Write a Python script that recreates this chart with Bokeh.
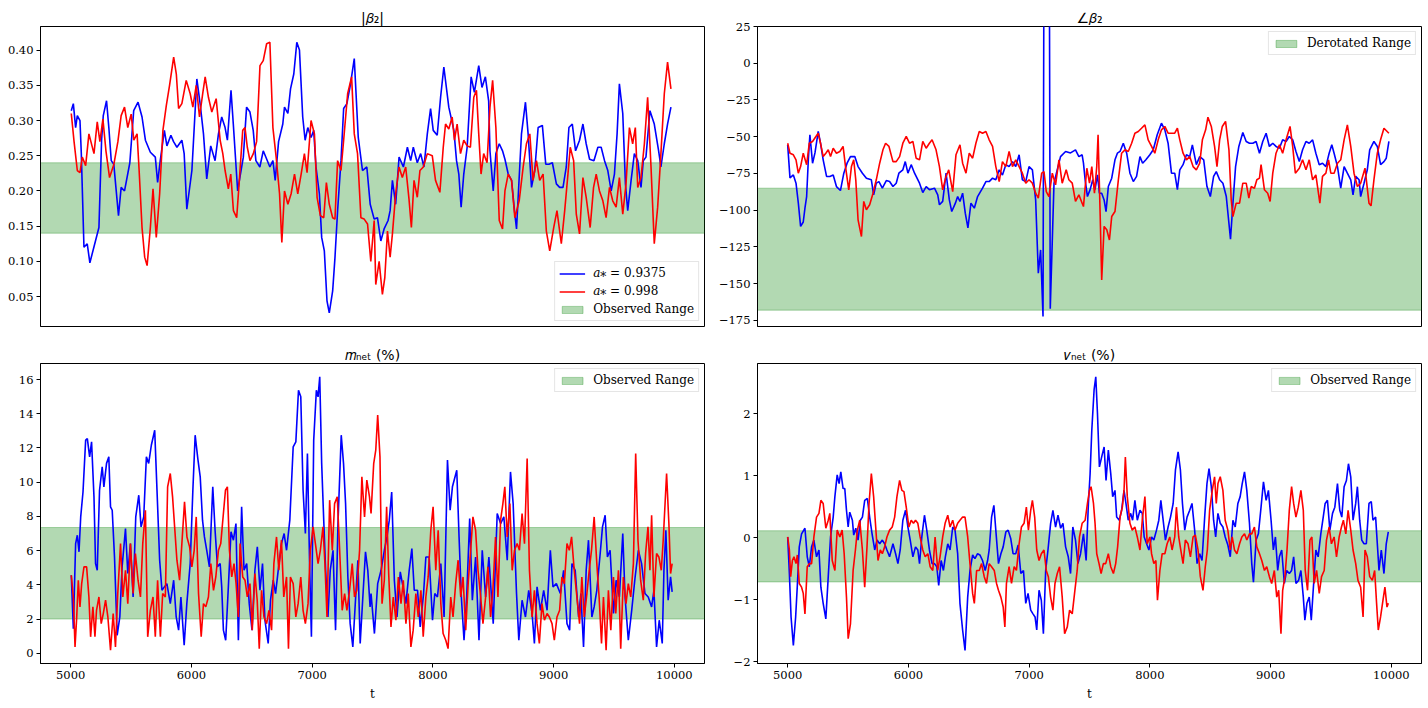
from bokeh.plotting import figure
from bokeh.models import Range1d, FixedTicker, CustomJSTickFormatter, Legend, LegendItem
from bokeh.layouts import column, row
from bokeh.embed import file_html
from bokeh.resources import INLINE

# ------------------------------------------------------------------ data
# |beta_2|  (top-left)
b2mag_t_blue = [
    5005, 5022, 5041, 5055, 5077, 5088, 5110, 5137, 5159, 5192,
    5234, 5256, 5270, 5297, 5316, 5336, 5357, 5396, 5418, 5446,
    5490, 5522, 5558, 5591, 5619, 5660, 5701, 5720, 5742, 5776,
    5797, 5830, 5852, 5880, 5921, 5940, 5962, 6004, 6045, 6072,
    6100, 6127, 6160, 6196, 6224, 6251, 6279, 6298, 6328, 6347,
    6383, 6430, 6457, 6485, 6512, 6534, 6567, 6595, 6650,
    6675, 6694, 6722, 6757, 6771, 6799, 6821, 6848, 6873, 6895,
    6922, 6942, 6964, 6991, 7013, 7032, 7060, 7079, 7101, 7123,
    7142, 7170, 7189, 7211, 7239, 7261, 7288, 7316, 7349, 7382,
    7417, 7453, 7481, 7514, 7541, 7569, 7596, 7629, 7646, 7665,
    7692, 7720, 7756, 7789, 7816, 7838, 7871, 7899, 7926, 7954,
    7981, 8003, 8036, 8064, 8091, 8132, 8174, 8196, 8215, 8234,
    8256, 8284, 8317, 8344, 8380, 8407, 8435, 8462,
    8473, 8500, 8522, 8550, 8577, 8597, 8624, 8652, 8679, 8693,
    8715, 8734, 8767, 8789, 8817, 8844, 8872, 8907, 8935, 8962,
    8990, 9023, 9050, 9078, 9105, 9127, 9155, 9182, 9215, 9243,
    9270, 9298, 9334, 9367, 9394, 9422, 9449, 9477, 9504, 9526,
    9545, 9573, 9595, 9614, 9642, 9669, 9697, 9724, 9743, 9765,
    9798, 9834, 9870, 9889, 9917, 9944, 9972,
]
b2mag_blue = [
    0.314, 0.324, 0.29, 0.307, 0.30, 0.253, 0.12, 0.125, 0.098, 0.12,
    0.148, 0.272, 0.307, 0.328, 0.29, 0.243, 0.238, 0.165, 0.205, 0.20,
    0.24, 0.314, 0.326, 0.305, 0.272, 0.255, 0.248, 0.212, 0.243, 0.286,
    0.264, 0.279, 0.27, 0.262, 0.272, 0.253, 0.174, 0.229, 0.359, 0.324,
    0.281, 0.217, 0.264, 0.243, 0.281, 0.305, 0.29, 0.272, 0.343, 0.295,
    0.20, 0.248, 0.319, 0.312, 0.286, 0.243, 0.234, 0.257, 0.234,
    0.243, 0.215, 0.27, 0.295, 0.319, 0.31, 0.345, 0.366, 0.411, 0.40,
    0.305, 0.272, 0.29, 0.276, 0.286, 0.234, 0.196, 0.134, 0.115, 0.044,
    0.027, 0.058, 0.105, 0.172, 0.243, 0.317, 0.324, 0.35, 0.388, 0.276,
    0.229, 0.234, 0.181, 0.16, 0.162, 0.129, 0.146, 0.158, 0.172, 0.215,
    0.181, 0.248, 0.234, 0.262, 0.243, 0.262, 0.24, 0.253, 0.234, 0.281,
    0.317, 0.286, 0.279, 0.333, 0.376, 0.319, 0.286, 0.243, 0.224, 0.177,
    0.224, 0.262, 0.362, 0.34, 0.378, 0.347, 0.362, 0.328,
    0.257, 0.20, 0.253, 0.267, 0.257, 0.245, 0.224, 0.215, 0.167, 0.146,
    0.219, 0.281, 0.326, 0.281, 0.205, 0.229, 0.29, 0.293, 0.238, 0.238,
    0.24, 0.21, 0.205, 0.205, 0.234, 0.29, 0.295, 0.257, 0.272, 0.295,
    0.267, 0.245, 0.243, 0.262, 0.262, 0.243, 0.229, 0.20, 0.224, 0.281,
    0.352, 0.31, 0.21, 0.172, 0.215, 0.253, 0.243, 0.205, 0.243, 0.248,
    0.314, 0.295, 0.257, 0.234, 0.267, 0.295, 0.319,
]
b2mag_t_red = [
    5005, 5028, 5055, 5077, 5096, 5124, 5151, 5193, 5220, 5242,
    5267, 5292, 5322, 5358, 5391, 5418, 5446, 5473, 5501, 5523,
    5550, 5567, 5591, 5613, 5633, 5660, 5682, 5709, 5737, 5764,
    5792, 5819, 5853, 5875, 5894, 5921, 5957, 5990, 6012, 6040,
    6067, 6095, 6114, 6141, 6169, 6205, 6238, 6260, 6279, 6306,
    6326, 6348, 6375, 6397, 6425, 6444, 6463, 6485, 6513, 6540,
    6568, 6595, 6623, 6650,
    6675, 6702, 6730, 6749, 6771, 6799, 6826, 6854, 6881, 6909,
    6936, 6958, 6991, 7019, 7041, 7068, 7096, 7118, 7142, 7170,
    7189, 7211, 7239, 7261, 7294, 7327, 7349, 7376, 7404, 7431,
    7459, 7486, 7514, 7527, 7555, 7582, 7602, 7624, 7646, 7665,
    7692, 7720, 7747, 7775, 7802, 7822, 7844, 7871, 7893, 7921,
    7954, 7995, 8022, 8058, 8086, 8105, 8132, 8160, 8179, 8201,
    8229, 8256, 8284, 8311, 8339, 8361, 8380, 8399, 8421, 8449,
    8473, 8495, 8522, 8550, 8577, 8597, 8624, 8652, 8679, 8715,
    8748, 8775, 8803, 8830, 8858, 8885, 8913, 8940, 8968, 9001,
    9028, 9064, 9092, 9119, 9138, 9166, 9188, 9215, 9243, 9270,
    9303, 9331, 9353, 9380, 9408, 9435, 9463, 9490, 9518, 9545,
    9573, 9600, 9628, 9655, 9677, 9697, 9724, 9752, 9779, 9807,
    9834, 9862, 9889, 9917, 9944, 9972,
]
b2mag_red = [
    0.31, 0.27, 0.229, 0.226, 0.248, 0.236, 0.281, 0.253, 0.298, 0.27,
    0.302, 0.257, 0.219, 0.238, 0.27, 0.307, 0.319, 0.29, 0.309, 0.272,
    0.281, 0.229, 0.148, 0.106, 0.094, 0.148, 0.203, 0.134, 0.196, 0.286,
    0.321, 0.35, 0.39, 0.366, 0.317, 0.324, 0.357, 0.338, 0.319, 0.35,
    0.305, 0.34, 0.362, 0.333, 0.312, 0.331, 0.272, 0.253, 0.229, 0.203,
    0.224, 0.172, 0.162, 0.215, 0.286, 0.29, 0.262, 0.243, 0.253, 0.27,
    0.378, 0.385, 0.409, 0.411,
    0.29, 0.248, 0.196, 0.127, 0.20, 0.181, 0.196, 0.224, 0.196, 0.224,
    0.253, 0.226, 0.30, 0.281, 0.191, 0.165, 0.162, 0.212, 0.181, 0.162,
    0.16, 0.243, 0.229, 0.272, 0.338, 0.362, 0.281, 0.253, 0.162, 0.16,
    0.153, 0.10, 0.158, 0.067, 0.10, 0.053, 0.077, 0.143, 0.106, 0.139,
    0.196, 0.234, 0.219, 0.234, 0.189, 0.148, 0.215, 0.191, 0.229, 0.234,
    0.253, 0.25, 0.215, 0.198, 0.262, 0.295, 0.288, 0.305, 0.272, 0.295,
    0.253, 0.272, 0.264, 0.262, 0.333, 0.343, 0.281, 0.224, 0.253, 0.24,
    0.319, 0.357, 0.29, 0.158, 0.146, 0.20, 0.224, 0.215, 0.162, 0.186,
    0.234, 0.267, 0.281, 0.215, 0.243, 0.215, 0.224, 0.143, 0.115, 0.148,
    0.172, 0.125, 0.172, 0.224, 0.262, 0.243, 0.167, 0.139, 0.219, 0.191,
    0.148, 0.205, 0.224, 0.20, 0.186, 0.162, 0.205, 0.186, 0.177, 0.219,
    0.167, 0.21, 0.29, 0.267, 0.29, 0.205, 0.219, 0.267, 0.333, 0.234,
    0.125, 0.177, 0.253, 0.338, 0.383, 0.345,
]

# angle of beta_2 (top-right)
b2ang_t_blue = [
    5000, 5019, 5047, 5069, 5088, 5107, 5129, 5143, 5157, 5171,
    5184, 5206, 5226, 5253, 5272, 5294, 5322, 5349, 5377, 5404,
    5437, 5465, 5492, 5520, 5556, 5583, 5619, 5652, 5693, 5712,
    5734, 5756, 5784, 5817, 5844, 5872, 5899, 5921, 5954, 5974,
    5996, 6023, 6051, 6092, 6119, 6147, 6174, 6216, 6243, 6257,
    6284, 6312, 6339, 6359, 6389, 6408, 6427, 6449, 6471, 6493,
    6518, 6546, 6573, 6614, 6642, 6669, 6697, 6724, 6752, 6779,
    6807, 6834, 6862, 6889, 6917, 6944, 6972, 6999, 7027, 7054,
    7076, 7095, 7115, 7126, 7164, 7175, 7206, 7233, 7260, 7302,
    7343, 7384, 7412, 7439,
    7450, 7464, 7483, 7505, 7527, 7546, 7566, 7582, 7601, 7621,
    7637, 7656, 7684, 7711, 7731, 7753, 7780, 7808, 7835, 7863,
    7890, 7918, 7940, 7967, 8000, 8028, 8061, 8096, 8124, 8151,
    8179, 8206, 8228, 8248, 8275, 8303, 8330, 8352, 8385, 8413,
    8446, 8473, 8501, 8528, 8550, 8578, 8605, 8633, 8652, 8668,
    8688, 8710, 8737, 8770, 8798, 8825, 8853, 8880, 8908, 8935,
    8963, 8990, 9018, 9045, 9073, 9100, 9128, 9155, 9183, 9210,
    9238, 9265, 9293, 9320, 9348, 9375, 9403, 9430, 9458, 9485,
    9507, 9526, 9554, 9581, 9609, 9636, 9664, 9683, 9705, 9733,
    9746, 9774, 9801, 9821, 9856, 9884, 9911, 9939, 9958, 9980,
]
b2ang_blue = [
    -55.5, -78, -76, -81.6, -95, -111, -108, -98.6, -90.7, -65.7,
    -48.7, -68, -61, -46.4, -54.4, -65.7, -77, -77, -76, -83.9,
    -86.6, -74.8, -68, -63.5, -63.5, -70.3, -74.8, -78.2, -79.3, -89.5,
    -81.6, -80.5, -85, -79.8, -80.5, -83.9, -81.6, -74.8, -72.5, -66.9,
    -74.8, -69, -74.8, -81.6, -88, -83.9, -86, -85, -89.5, -96.3,
    -94, -74.8, -93, -100.9, -95.2, -90.7, -94, -88.4, -102, -112,
    -95.2, -98.6, -90.7, -85, -80.5, -80.5, -78.2, -79.3, -72.5, -76,
    -69, -70.3, -66.9, -70.3, -62.3, -79.3, -80.5, -70.3, -72.5, -93,
    -142.8, -127, -172.3, 175, 175, -167, -81.6, -72.5, -63.5, -60,
    -61, -58.9, -63.5, -62.3,
    -68, -79.3, -90.7, -86, -79.3, -86, -76, -88.4, -88.4, -93,
    -100.9, -83.9, -78.2, -65.7, -61.2, -60, -54.4, -61.2, -74.8, -80.5,
    -77, -63.5, -68, -65.7, -62.3, -58.9, -48.7, -40.8, -45.3, -54.4,
    -74.8, -74.8, -86, -72.5, -69, -62.3, -63.5, -55.5, -69, -63.5,
    -65.7, -83.9, -90.7, -77, -73.7, -79.3, -81.6, -90.7, -106.5, -119.7,
    -95.2, -70.3, -56.6, -47.1, -53.2, -54.4, -54.4, -53.2, -61.2, -53.2,
    -47.6, -56.6, -54.4, -56.6, -57.8, -52.1, -53.2, -49.8, -52.1, -60,
    -66.9, -58.9, -53.2, -54.4, -52.1, -61.2, -69, -68, -70.3, -61.2,
    -55.5, -61.2, -70.3, -85, -70.3, -74.8, -79.3, -89.5, -77, -79.3,
    -90.7, -81.6, -72.5, -58.9, -53.2, -56.6, -69, -66.9, -64.6, -53.2,
]
b2ang_t_red = [
    5000, 5019, 5047, 5069, 5088, 5107, 5129, 5157, 5179, 5206,
    5234, 5253, 5272, 5294, 5316, 5336, 5355, 5377, 5404, 5432,
    5459, 5479, 5506, 5528, 5547, 5564, 5583, 5611, 5630, 5652,
    5679, 5707, 5734, 5762, 5789, 5811, 5839, 5872, 5899, 5927,
    5954, 5982, 6009, 6037, 6064, 6092, 6119, 6147, 6174, 6196,
    6229, 6257, 6284, 6312, 6334, 6367, 6394, 6427, 6449, 6477,
    6504, 6532, 6559, 6587, 6614, 6642, 6669, 6697, 6724, 6752,
    6779, 6807, 6834, 6862, 6889, 6917, 6944, 6972, 6999, 7027,
    7054, 7076, 7104, 7123, 7142, 7164, 7192, 7219, 7247, 7274,
    7307, 7329, 7357, 7384, 7412, 7439,
    7450, 7478, 7500, 7519, 7541, 7560, 7571, 7588, 7601, 7621,
    7643, 7665, 7684, 7711, 7739, 7766, 7794, 7821, 7849, 7876,
    7904, 7931, 7959, 7986, 8014, 8041, 8069, 8096, 8124, 8151,
    8179, 8206, 8228, 8248, 8275, 8303, 8330, 8358, 8385, 8413,
    8435, 8462, 8481, 8509, 8536, 8556, 8578, 8600, 8627, 8655,
    8674, 8688, 8715, 8743, 8770, 8798, 8820, 8839, 8866, 8886,
    8908, 8921, 8949, 8976, 8996, 9018, 9045, 9073, 9100, 9128,
    9161, 9183, 9205, 9238, 9265, 9293, 9320, 9348, 9375, 9408,
    9430, 9458, 9480, 9499, 9526, 9554, 9581, 9609, 9636, 9664,
    9691, 9719, 9746, 9782, 9815, 9832, 9856, 9884, 9911, 9939,
    9980,
]
b2ang_red = [
    -54.4, -61.2, -62.3, -65.7, -74.8, -70.3, -61.2, -69, -54.4, -53.2,
    -49.8, -47.6, -54.4, -63.5, -61.2, -58.9, -63.5, -57.8, -61.2, -60,
    -56.6, -70.3, -86.1, -70.3, -65.7, -79.3, -106.5, -117.9, -94, -99.7,
    -96.3, -88.4, -79.3, -68, -58.9, -54.4, -56.6, -66.9, -66.9, -63.5,
    -54.4, -49.8, -54.4, -53.2, -64.6, -65.7, -53.2, -57.8, -54.4, -52.1,
    -58.9, -70.3, -86.1, -77, -72.5, -87.3, -62.3, -55.5, -68, -74.8,
    -61.2, -64.6, -54.4, -46.4, -47.6, -46.4, -52.1, -56.6, -70.3, -80.5,
    -66.9, -70.3, -60, -70.3, -65.7, -70.3, -74.8, -81.6, -79.3, -81.6,
    -88.4, -91.8, -74.8, -73.7, -87.3, -90.7, -74.8, -82.7, -65.7, -81.6,
    -72.5, -79.3, -81.6, -94, -89.5, -95.2,
    -97.5, -71.4, -81.6, -70.3, -88.4, -70.3, -48.7, -102, -147.4, -111,
    -113.3, -120.2, -104.3, -100.9, -79.3, -61.2, -58.9, -60, -54.4, -47.6,
    -46.4, -44.2, -41.9, -52.1, -56.6, -61.2, -52.1, -45.3, -43, -47.6,
    -47.6, -47.6, -44.2, -52.1, -61.2, -65.7, -63.5, -70.3, -72.5, -68,
    -52.1, -45.3, -36.7, -43, -56.6, -70.3, -52.1, -43, -39.6, -58.9,
    -93, -104.3, -95.2, -95.2, -81.6, -81.6, -91.8, -83.9, -85, -79.3,
    -78.2, -69, -86.1, -88.4, -94, -74.8, -61.2, -55.5, -61.2, -52.1,
    -43, -56.6, -74.8, -71.4, -65.7, -72.5, -65.7, -79.3, -76, -95.2,
    -77, -74.8, -65.7, -74.8, -74.8, -68, -65.7, -52.1, -41.9, -56.6,
    -74.8, -83.9, -81.6, -71.4, -95.2, -97, -79.3, -61.2, -52.1, -44.2,
    -47.6,
]

# m_net (%) (bottom-left)
mnet_t_blue = [
    5005, 5022, 5041, 5055, 5069, 5083, 5102, 5124, 5138, 5157,
    5173, 5193, 5206, 5220, 5239, 5261, 5275, 5297, 5316, 5330,
    5344, 5363, 5385, 5407, 5426, 5454, 5473, 5495, 5517, 5539,
    5564, 5583, 5605, 5627, 5646, 5668, 5696, 5715, 5737, 5756,
    5776, 5797, 5825, 5853, 5874, 5894, 5913, 5940, 5962, 5990,
    6012, 6031, 6053, 6073, 6092, 6108, 6127, 6149, 6177, 6196,
    6216, 6238, 6251, 6265, 6284, 6306, 6328, 6348, 6369, 6389,
    6416, 6436, 6458, 6479, 6502, 6526, 6546, 6568, 6589, 6609,
    6636, 6655, 6678, 6697, 6719, 6746, 6768, 6788, 6815, 6843,
    6865, 6887, 6906, 6925, 6944, 6961, 6980, 6994, 7013, 7035,
    7049, 7063, 7079, 7096, 7112, 7131, 7150, 7173, 7194, 7214,
    7241, 7260, 7277, 7296, 7315, 7337, 7359, 7379, 7398, 7420,
    7442, 7461, 7480,
    7488, 7516, 7543, 7571, 7598, 7620, 7639, 7659, 7681, 7703,
    7730, 7758, 7777, 7804, 7826, 7846, 7873, 7895, 7923, 7942,
    7969, 7997, 8016, 8038, 8066, 8093, 8121, 8143, 8162, 8198,
    8217, 8236, 8258, 8280, 8305, 8327, 8354, 8382, 8409, 8437,
    8464, 8500, 8533, 8561, 8588, 8616, 8643, 8665, 8693, 8712,
    8739, 8767, 8794, 8822, 8841, 8863, 8891, 8918, 8946, 8973,
    8995, 9023, 9056, 9083, 9111, 9133, 9152, 9179, 9207, 9226,
    9248, 9270, 9289, 9317, 9336, 9358, 9386, 9405, 9427, 9446,
    9468, 9496, 9518, 9545, 9573, 9592, 9619, 9647, 9674, 9702,
    9729, 9757, 9784, 9812, 9831, 9853, 9875, 9900, 9914, 9930,
    9949, 9969, 9982,
]
mnet_blue = [
    4.56, 1.44, 6.41, 6.9, 5.93, 7.97, 9.43, 12.46, 12.55, 11.48,
    12.36, 9.14, 5.24, 4.85, 9.53, 10.9, 9.73, 11.1, 11.48, 8.56,
    8.36, 5.63, 1.05, 2.12, 5.05, 7.29, 4.66, 6.41, 3.29, 7.97,
    9.24, 7.39, 7.97, 11.48, 11.1, 12.16, 13.04, 9.53, 5.44, 3.68,
    3.88, 4.07, 2.9, 4.27, 2.12, 1.35, 3.29, 0.47, 2.9, 5.24,
    9.53, 12.75, 11.38, 10.31, 7.78, 6.8, 6.02, 5.05, 9.73, 7.19,
    5.05, 5.24, 3.88, 1.35, 0.76, 3.88, 7.1, 6.61, 7.58, 0.76,
    8.56, 4.85, 5.24, 2.9, 1.35, 4.85, 6.22, 3.68, 5.24, 1.93,
    0.57, 3.1, 4.27, 3.49, 4.85, 6.41, 7.0, 6.02, 7.78, 12.07,
    12.36, 15.38, 14.99, 9.53, 7.0, 11.68, 4.85, 0.96, 12.46, 15.38,
    14.99, 16.16, 11.1, 7.78, 4.85, 2.12, 4.85, 6.02, 1.35, 7.58,
    12.75, 11.1, 8.75, 4.46, 1.73, 0.37, 3.1, 5.44, 0.57, 3.29,
    5.93, 4.85, 2.71,
    3.49, 1.15, 4.07, 4.85, 6.02, 6.8, 7.78, 9.43, 4.27, 2.12,
    4.76, 3.68, 2.9, 4.85, 6.12, 3.68, 3.68, 1.54, 3.49, 5.63,
    5.63, 1.93, 3.49, 3.29, 5.24, 2.12, 11.29, 8.36, 9.73, 10.7,
    6.8, 3.29, 0.76, 3.29, 7.88, 3.1, 5.63, 0.76, 6.02, 3.29,
    5.63, 1.73, 8.17, 7.58, 7.97, 5.44, 10.6, 8.75, 3.49, 0.76,
    3.1, 2.12, 3.68, 2.32, 0.57, 3.88, 2.51, 3.68, 2.51, 6.02,
    3.88, 4.07, 3.49, 4.85, 1.73, 1.35, 5.24, 4.85, 2.12, 3.49,
    0.37, 4.85, 6.61, 2.12, 2.71, 3.68, 5.83, 7.39, 8.07, 5.63,
    6.02, 2.32, 4.27, 3.29, 7.0, 3.29, 0.76, 2.51, 4.37, 6.02,
    5.24, 3.49, 3.29, 2.71, 3.68, 0.37, 1.93, 0.57, 4.85, 7.19,
    3.1, 4.46, 3.59,
]
mnet_t_red = [
    5005, 5022, 5036, 5050, 5063, 5077, 5091, 5110, 5132, 5151,
    5165, 5184, 5201, 5214, 5234, 5253, 5270, 5289, 5308, 5330,
    5352, 5371, 5390, 5413, 5432, 5454, 5473, 5495, 5517, 5536,
    5558, 5578, 5597, 5619, 5638, 5660, 5682, 5701, 5720, 5743,
    5762, 5784, 5803, 5825, 5844, 5861, 5880, 5902, 5921, 5943,
    5963, 5985, 6004, 6023, 6040, 6059, 6081, 6100, 6119, 6141,
    6161, 6183, 6202, 6224, 6243, 6265, 6282, 6298, 6315, 6334,
    6353, 6370, 6389, 6403, 6425, 6444, 6463, 6485, 6504, 6526,
    6545, 6562, 6581, 6601, 6623, 6642, 6664, 6683, 6705, 6724,
    6746, 6765, 6788, 6804, 6820, 6843, 6865, 6884, 6906, 6925,
    6944, 6966, 6985, 7008, 7027, 7049, 7068, 7090, 7106, 7123,
    7145, 7167, 7186, 7208, 7228, 7249, 7269, 7288, 7310, 7332,
    7351, 7370, 7393, 7412, 7434, 7453, 7475,
    7488, 7510, 7527, 7543, 7562, 7579, 7598, 7617, 7634, 7653,
    7672, 7694, 7714, 7736, 7755, 7777, 7796, 7818, 7837, 7859,
    7879, 7901, 7920, 7942, 7961, 7983, 8002, 8024, 8044, 8066,
    8085, 8107, 8126, 8148, 8167, 8189, 8209, 8231, 8250, 8272,
    8294, 8313, 8332, 8354, 8374, 8396, 8415, 8437, 8456, 8478,
    8497, 8519, 8539, 8561, 8580, 8596, 8616, 8638, 8657, 8676,
    8698, 8717, 8739, 8759, 8781, 8800, 8822, 8841, 8863, 8882,
    8904, 8924, 8946, 8965, 8987, 9006, 9028, 9050, 9069, 9089,
    9111, 9130, 9149, 9171, 9193, 9215, 9234, 9254, 9276, 9295,
    9314, 9336, 9358, 9377, 9397, 9413, 9435, 9454, 9474, 9496,
    9515, 9537, 9556, 9578, 9600, 9619, 9639, 9661, 9680, 9699,
    9721, 9743, 9762, 9782, 9798, 9812, 9831, 9853, 9872, 9892,
    9908, 9922, 9936, 9955, 9969, 9982,
]
mnet_red = [
    4.56, 3.29, 0.37, 2.12, 4.27, 2.71, 4.07, 5.05, 5.05, 3.29,
    0.96, 2.71, 0.96, 2.51, 3.29, 1.73, 2.32, 3.1, 2.12, 0.18,
    2.32, 0.37, 3.49, 6.41, 3.29, 4.85, 2.9, 6.41, 3.49, 5.83,
    4.27, 3.29, 6.41, 8.36, 0.96, 2.51, 3.29, 0.96, 4.27, 0.96,
    3.49, 3.29, 9.73, 10.51, 9.14, 7.39, 5.44, 4.27, 6.41, 8.85,
    6.8, 6.22, 5.05, 6.02, 7.97, 3.49, 0.96, 2.9, 2.71, 3.29,
    5.24, 3.68, 4.46, 6.02, 6.41, 8.17, 9.53, 9.73, 6.02, 4.46,
    5.24, 4.07, 2.12, 6.41, 4.46, 4.27, 3.29, 4.07, 1.35, 4.66,
    3.1, 0.27, 3.68, 2.12, 1.73, 2.51, 1.35, 5.24, 6.8, 4.85,
    6.61, 3.29, 4.46, 0.27, 4.46, 4.07, 2.12, 2.9, 4.46, 2.51,
    1.73, 2.9, 6.02, 7.39, 6.41, 5.24, 6.02, 7.39, 5.24, 2.12,
    8.95, 6.02, 8.75, 9.14, 6.02, 2.51, 3.49, 2.51, 3.68, 5.24,
    3.29, 3.68, 6.02, 10.31, 7.97, 10.12, 9.14,
    8.17, 11.09, 11.87, 13.92, 11.48, 2.9, 4.27, 8.56, 4.66, 1.54,
    3.29, 1.93, 4.46, 2.9, 4.27, 1.73, 3.49, 0.37, 1.35, 3.49,
    2.12, 3.68, 0.96, 3.29, 4.46, 7.19, 8.56, 4.85, 7.19, 2.9,
    1.15, 0.76, 0.27, 3.29, 2.12, 4.07, 5.44, 3.29, 4.46, 1.35,
    4.27, 6.02, 7.97, 7.19, 4.85, 3.29, 1.73, 3.29, 5.05, 2.12,
    3.68, 6.8, 3.29, 7.78, 8.75, 9.73, 6.8, 8.75, 4.85, 6.02,
    6.41, 6.02, 8.17, 6.41, 11.38, 4.85, 2.12, 3.68, 1.73, 0.57,
    2.9, 1.93, 2.32, 2.12, 1.73, 0.76, 2.12, 2.51, 4.46, 4.07,
    6.41, 6.02, 6.8, 4.85, 3.29, 1.73, 4.46, 2.12, 3.49, 4.85,
    6.02, 7.97, 5.24, 3.29, 0.57, 3.29, 0.18, 3.68, 1.35, 4.46,
    2.32, 4.85, 0.27, 4.46, 2.9, 4.07, 3.29, 5.24, 11.68, 6.61,
    4.27, 3.1, 5.83, 7.39, 4.85, 8.07, 3.29, 5.83, 5.63, 4.85,
    6.61, 8.56, 10.51, 7.58, 4.66, 5.24,
]

# v_net (%) (bottom-right)
vnet_t_blue = [
    5000, 5014, 5028, 5047, 5066, 5080, 5096, 5115, 5143, 5162,
    5179, 5198, 5217, 5239, 5259, 5275, 5294, 5316, 5336, 5355,
    5377, 5391, 5410, 5426, 5440, 5459, 5473, 5487, 5501, 5514,
    5536, 5547, 5564, 5583, 5602, 5619, 5638, 5660, 5679, 5699,
    5721, 5740, 5762, 5784, 5803, 5822, 5844, 5872, 5894, 5913,
    5932, 5954, 5976, 5996, 6015, 6037, 6059, 6078, 6092, 6111,
    6133, 6152, 6174, 6196, 6216, 6235, 6251, 6271, 6290, 6306,
    6326, 6345, 6367, 6386, 6408, 6427, 6449, 6469, 6491, 6510,
    6532, 6551, 6573, 6592, 6614, 6636, 6656, 6669, 6689, 6708,
    6724, 6746, 6766, 6785, 6807, 6826, 6848, 6867, 6889, 6909,
    6931, 6953, 6972, 6991, 7013, 7032, 7049, 7063, 7082, 7101,
    7118, 7137, 7156, 7178, 7197, 7219, 7239, 7261, 7280, 7302,
    7324, 7343, 7362, 7384, 7404, 7426,
    7450, 7472, 7491, 7505, 7519, 7538, 7552, 7566, 7582, 7601,
    7621, 7637, 7656, 7676, 7692, 7711, 7725, 7747, 7766, 7786,
    7802, 7821, 7841, 7857, 7876, 7896, 7918, 7937, 7953, 7973,
    7992, 8014, 8033, 8055, 8074, 8091, 8110, 8129, 8151, 8171,
    8193, 8212, 8234, 8253, 8270, 8289, 8308, 8330, 8349, 8371,
    8391, 8413, 8432, 8454, 8473, 8490, 8509, 8528, 8545, 8564,
    8583, 8605, 8624, 8646, 8666, 8688, 8707, 8729, 8748, 8765,
    8784, 8803, 8825, 8844, 8858, 8880, 8899, 8921, 8941, 8963,
    8982, 9004, 9023, 9040, 9059, 9073, 9092, 9114, 9133, 9155,
    9174, 9191, 9210, 9232, 9251, 9271, 9284, 9301, 9320, 9337,
    9353, 9375, 9394, 9416, 9436, 9452, 9471, 9491, 9513, 9532,
    9554, 9573, 9590, 9609, 9628, 9645, 9664, 9683, 9705, 9719,
    9738, 9755, 9774, 9793, 9815, 9834, 9848, 9870, 9884, 9898,
    9917, 9939, 9958, 9975,
]
vnet_blue = [
    0.01, -0.58, -1.28, -1.74, -1.28, -0.77, -0.15, 0.06, 0.15, -0.31,
    -0.47, -0.15, -0.04, -0.31, -0.2, -0.8, -1.06, -1.31, -0.63, 0.01,
    0.33, 0.66, 1.01, 0.87, 1.06, 0.79, 0.79, 0.44, 0.17, 0.41,
    0.28, 0.04, 0.15, -0.04, 0.28, 0.33, 0.6, 0.63, 0.33, 0.06,
    -0.2, -0.04, -0.1, -0.04, -0.1, -0.2, -0.31, -0.1, -0.26, -0.42,
    -0.2, 0.28, 0.44, 0.17, -0.04, -0.31, -0.15, -0.2, -0.42, 0.01,
    0.36, 0.12, -0.2, -0.42, -0.42, -0.47, -0.77, -0.37, -0.53, -0.31,
    -0.1, -0.2, 0.17, 0.12, -0.26, -1.06, -1.49, -1.82, -0.96, -0.53,
    -0.28, -0.34, -0.26, -0.28, -0.37, -0.53, -0.37, -0.2, 0.33, 0.52,
    0.12, -0.42, -0.26, -0.15, 0.09, 0.12, -0.02, -0.26, -0.26, -0.12,
    -0.58, -0.53, -1.06, -0.9, -1.17, -1.23, -1.28, -1.49, -0.85, -1.01,
    -1.55, -0.53, -0.2, 0.23, 0.44, 0.17, 0.36, 0.15, 0.23, -0.15,
    -0.31, -0.58, 0.17, -0.04, -0.42, -0.26,
    0.06, -0.37, 0.55, 1.03, 1.73, 2.38, 2.59, 2.0, 1.14, 1.3,
    1.46, 0.92, 1.41, 1.03, 0.66, 0.76, 0.33, 0.28, 0.44, 0.76,
    0.55, 0.28, 0.39, 0.28, 0.6, 0.28, 0.44, 0.39, 0.01, -0.1,
    -0.2, 0.01, -0.04, 0.12, 0.28, 0.6, 0.28, -0.04, 0.17, 0.33,
    0.55, 1.09, 1.38, 1.09, 0.55, 0.12, 0.33, 0.44, 0.55, 0.12,
    -0.42, -0.26, -0.37, 0.33, 0.87, 1.11, 0.82, 0.28, 0.01, 0.39,
    0.23, 0.17, 0.01, -0.12, -0.31, 0.28, 0.17, 0.55, 0.66, 0.87,
    1.06, 0.76, 0.23, -0.42, -0.72, -0.04, 0.06, 0.49, 0.9, 0.6,
    0.76, 0.28, -0.2, 0.01, -0.53, -0.31, -0.2, -0.74, -0.53, -0.58,
    -0.53, -0.31, -0.74, -0.69, -0.53, -0.96, -1.33, -1.06, -0.96, -1.33,
    -0.85, -0.2, -0.31, 0.06, 0.33, 0.55, 0.6, 0.12, 0.39, 0.49,
    0.87, 0.44, 0.33, 0.82, 0.92, 1.19, 0.98, 0.28, 0.55, 0.82,
    0.28, -0.04, -0.1, -0.1, 0.55, 0.58, 0.28, 0.33, -0.1, -0.53,
    -0.2, -0.58, -0.1, 0.09,
]
vnet_t_red = [
    5000, 5014, 5025, 5039, 5052, 5069, 5080, 5096, 5115, 5129,
    5143, 5162, 5179, 5198, 5217, 5239, 5259, 5275, 5294, 5316,
    5336, 5349, 5369, 5391, 5410, 5432, 5451, 5468, 5487, 5501,
    5520, 5542, 5561, 5577, 5597, 5619, 5638, 5657, 5674, 5693,
    5712, 5729, 5748, 5767, 5784, 5803, 5822, 5844, 5866, 5886,
    5905, 5927, 5946, 5963, 5982, 6004, 6023, 6042, 6059, 6078,
    6097, 6119, 6139, 6161, 6180, 6202, 6221, 6243, 6262, 6284,
    6304, 6326, 6345, 6367, 6386, 6408, 6427, 6449, 6469, 6491,
    6510, 6532, 6546, 6565, 6587, 6606, 6628, 6647, 6669, 6689,
    6711, 6730, 6746, 6766, 6785, 6799, 6812, 6834, 6854, 6876,
    6895, 6917, 6936, 6958, 6977, 6994, 7013, 7027, 7046, 7063,
    7082, 7101, 7123, 7142, 7159, 7178, 7197, 7214, 7233, 7252,
    7274, 7294, 7316, 7335, 7357, 7379, 7398, 7417, 7439,
    7464, 7483, 7500, 7513, 7533, 7546, 7560, 7579, 7596, 7615,
    7634, 7656, 7676, 7698, 7717, 7733, 7753, 7772, 7786, 7797,
    7813, 7835, 7854, 7876, 7896, 7918, 7937, 7959, 7978, 8000,
    8014, 8033, 8050, 8063, 8083, 8102, 8124, 8143, 8165, 8184,
    8206, 8220, 8239, 8256, 8275, 8294, 8316, 8336, 8358, 8377,
    8399, 8418, 8440, 8459, 8476, 8495, 8517, 8536, 8550, 8564,
    8583, 8605, 8624, 8646, 8666, 8682, 8701, 8721, 8743, 8762,
    8784, 8803, 8825, 8844, 8866, 8886, 8908, 8927, 8949, 8968,
    8990, 9009, 9031, 9051, 9067, 9086, 9100, 9119, 9136, 9155,
    9174, 9191, 9210, 9229, 9251, 9271, 9287, 9306, 9326, 9342,
    9361, 9381, 9403, 9422, 9444, 9463, 9485, 9504, 9526, 9546,
    9568, 9587, 9603, 9623, 9642, 9664, 9683, 9705, 9724, 9746,
    9766, 9782, 9801, 9821, 9843, 9862, 9878, 9892, 9911, 9931,
    9947, 9964, 9975,
]
vnet_red = [
    0.01, -0.2, -0.63, -0.37, -0.31, -0.42, -0.28, -0.74, -0.8, -0.9,
    -1.23, -0.47, -0.42, -0.42, 0.01, 0.33, 0.39, 0.6, 0.55, 0.15,
    0.28, 0.39, -0.37, -0.53, 0.12, 0.01, 0.12, -0.26, -0.96, -1.63,
    -1.39, -0.53, -0.2, 0.12, 0.28, -0.2, -0.8, -0.15, 0.55, 1.03,
    0.66, 0.17, -0.37, -0.2, -0.26, -0.15, 0.01, 0.12, 0.17, 0.33,
    0.66, 0.92, 0.76, 0.74, 0.49, 0.17, 0.28, 0.23, 0.28, 0.23,
    0.01, -0.2, -0.31, -0.26, -0.47, -0.53, 0.01, -0.53, -0.31, 0.01,
    0.23, 0.36, 0.17, 0.28, 0.12, 0.23, 0.28, 0.33, 0.33, 0.01,
    -0.42, -0.9, -1.06, -0.53, -0.53, -0.42, -0.63, -0.74, -0.42, -0.47,
    -0.53, -0.74, -0.85, -0.96, -1.12, -1.44, -0.74, -0.47, -0.74, -0.47,
    -0.53, -0.1, 0.17, 0.23, 0.49, 0.12, 0.44, 0.6, 0.33, -0.2,
    -0.37, -0.26, -0.2, -0.53, -0.63, -0.96, -1.17, -0.74, -0.58, -0.47,
    -0.96, -1.55, -1.44, -1.17, -1.23, -0.85, -0.53, 0.01, 0.23,
    0.28, 0.55, 0.76, 0.82, 0.55, 0.23, -0.26, -0.42, -0.58, -0.42,
    -0.42, -0.26, -0.47, -0.58, -0.42, -0.15, 0.33, 0.49, 0.76, 1.3,
    0.66, 0.23, 0.12, 0.17, 0.01, -0.2, 0.28, 0.66, -0.1, 0.01,
    -0.26, -0.42, -0.37, -1.01, -0.53, -0.26, -0.26, -0.1, 0.01, -0.2,
    0.01, 0.49, 0.01, -0.2, -0.42, -0.04, -0.1, -0.31, 0.01, 0.04,
    -0.2, -0.63, -0.85, -0.47, -0.2, 0.44, 0.76, 0.98, 0.55, 0.87,
    0.98, 0.76, 0.28, 0.12, -0.2, 0.01, -0.2, -0.26, -0.1, 0.01,
    0.06, -0.04, 0.06, 0.06, 0.17, -0.15, -0.26, -0.37, -0.53, -0.47,
    -0.63, -0.74, -0.53, -0.96, -0.85, -1.55, -0.85, -0.63, -0.2, 0.44,
    0.82, 0.55, 0.33, 0.49, 0.76, 0.44, -0.53, -0.85, -0.04, 0.01,
    -0.74, -0.53, -0.9, -0.63, -0.53, -0.04, 0.17, -0.1, 0.01, -0.31,
    0.01, 0.17, 0.28, 0.06, 0.44, 0.12, -0.2, -0.42, -0.69, -0.8,
    -1.28, -0.2, -0.31, -0.63, -0.69, -0.53, -1.06, -1.49, -1.28, -1.01,
    -0.8, -1.12, -1.06,
]

# shaded ranges (bottom, top)
b2mag_range = [0.14, 0.24]
b2ang_range = [-168, -85]
mnet_range = [2.0, 7.35]
vnet_range = [-0.715, 0.11]

# axes
x_limits = [4750, 10250]
x_ticks = [5000, 6000, 7000, 8000, 9000, 10000]
b2mag_limits = [0.0075, 0.4335]
b2mag_ticks = [0.05, 0.10, 0.15, 0.20, 0.25, 0.30, 0.35, 0.40]
b2ang_limits = [-179.1, 25]
b2ang_ticks = [-175, -150, -125, -100, -75, -50, -25, 0, 25]
mnet_limits = [-0.6, 16.94]
mnet_ticks = [0, 2, 4, 6, 8, 10, 12, 14, 16]
vnet_limits = [-2.03, 2.806]
vnet_ticks = [-2, -1, 0, 1, 2]

label_blue = "𝑎⁎ = 0.9375"
label_red = "𝑎⁎ = 0.998"
titles = ["|𝛽₂|", "∠𝛽₂", "𝑚ₙₑₜ (%)", "𝑣ₙₑₜ (%)"]

# ------------------------------------------------------------------ style
BLUE = "#0000ff"
RED = "#ff0000"
GREEN = "#008000"
SERIF = "DejaVu Serif"
FRAME_W = 664
FRAME_H = 300


def fmt(decimals):
    return CustomJSTickFormatter(
        code="var s = Math.abs(tick).toFixed(%d); return (tick < -1e-9 ? '\u2212' : '') + s;" % decimals
    )


def make_panel(title, ylim, yticks, decimals, top_row, left_col):
    p = figure(
        frame_width=FRAME_W, frame_height=FRAME_H,
        x_range=Range1d(*x_limits), y_range=Range1d(*ylim),
        output_backend="svg", toolbar_location=None,
        min_border_left=40 if left_col else 45,
        min_border_right=8 if left_col else 7,
        min_border_top=26 if top_row else 27,
        min_border_bottom=10 if top_row else 44,
        background_fill_color="white", border_fill_color="white",
    )
    p.title.text = title
    p.title.align = "center"
    p.title.text_font = "DejaVu Sans"
    p.title.text_font_size = "14px"
    p.title.text_font_style = "normal"
    p.title.text_color = "black"
    p.title.standoff = 2
    p.xgrid.visible = False
    p.ygrid.visible = False
    p.outline_line_color = "black"
    p.outline_line_alpha = 1.0
    p.outline_line_width = 1
    for ax in (p.xaxis[0], p.yaxis[0]):
        ax.axis_line_color = "black"
        ax.major_tick_line_color = "black"
        ax.major_tick_in = 0
        ax.major_tick_out = 4
        ax.minor_tick_line_color = None
        ax.major_label_text_font = SERIF
        ax.major_label_text_font_size = "11.5px"
        ax.major_label_text_color = "black"
        ax.major_label_standoff = 3
    p.yaxis.ticker = FixedTicker(ticks=yticks)
    p.yaxis.formatter = fmt(decimals)
    p.xaxis.ticker = FixedTicker(ticks=x_ticks)
    p.xaxis.formatter = fmt(0)
    if top_row:
        p.xaxis.visible = False
    else:
        p.xaxis.axis_label = "t"
        p.xaxis.axis_label_text_font = SERIF
        p.xaxis.axis_label_text_font_size = "12px"
        p.xaxis.axis_label_text_font_style = "normal"
        p.xaxis.axis_label_text_color = "black"
        p.xaxis.axis_label_standoff = 5
    return p


def add_band(p, rng):
    return p.quad(left=[x_limits[0]], right=[x_limits[1]], bottom=[rng[0]], top=[rng[1]],
                  fill_color=GREEN, fill_alpha=0.3, line_color=GREEN, line_alpha=0.3, line_width=1)


def add_series(p, t, v, color):
    n = min(len(t), len(v))
    return p.line(t[:n], v[:n], line_color=color, line_width=1.6)


def add_legend(p, items, loc):
    lg = Legend(items=items, location=loc, margin=5, padding=4, spacing=4,
                glyph_width=26, glyph_height=9, label_height=14, label_standoff=8,
                label_text_font=SERIF, label_text_font_size="12px", label_text_color="black",
                background_fill_color="white", background_fill_alpha=0.8,
                border_line_color="#cccccc", border_line_width=1)
    p.add_layout(lg)


# top-left
p1 = make_panel(titles[0], b2mag_limits, b2mag_ticks, 2, True, True)
band1 = add_band(p1, b2mag_range)
r1b = add_series(p1, b2mag_t_blue, b2mag_blue, BLUE)
r1r = add_series(p1, b2mag_t_red, b2mag_red, RED)
add_legend(p1, [LegendItem(label=label_blue, renderers=[r1b]),
                LegendItem(label=label_red, renderers=[r1r]),
                LegendItem(label="Observed Range", renderers=[band1])], "bottom_right")

# top-right
p2 = make_panel(titles[1], b2ang_limits, b2ang_ticks, 0, True, False)
band2 = add_band(p2, b2ang_range)
add_series(p2, b2ang_t_blue, b2ang_blue, BLUE)
add_series(p2, b2ang_t_red, b2ang_red, RED)
add_legend(p2, [LegendItem(label="Derotated Range", renderers=[band2])], "top_right")

# bottom-left
p3 = make_panel(titles[2], mnet_limits, mnet_ticks, 0, False, True)
band3 = add_band(p3, mnet_range)
add_series(p3, mnet_t_blue, mnet_blue, BLUE)
add_series(p3, mnet_t_red, mnet_red, RED)
add_legend(p3, [LegendItem(label="Observed Range", renderers=[band3])], "top_right")

# bottom-right
p4 = make_panel(titles[3], vnet_limits, vnet_ticks, 0, False, False)
band4 = add_band(p4, vnet_range)
add_series(p4, vnet_t_blue, vnet_blue, BLUE)
add_series(p4, vnet_t_red, vnet_red, RED)
add_legend(p4, [LegendItem(label="Observed Range", renderers=[band4])], "top_right")

layout = column(row(p1, p2), row(p3, p4))

open("out.html", "w").write(file_html(layout, INLINE, "beta2 panels"))
